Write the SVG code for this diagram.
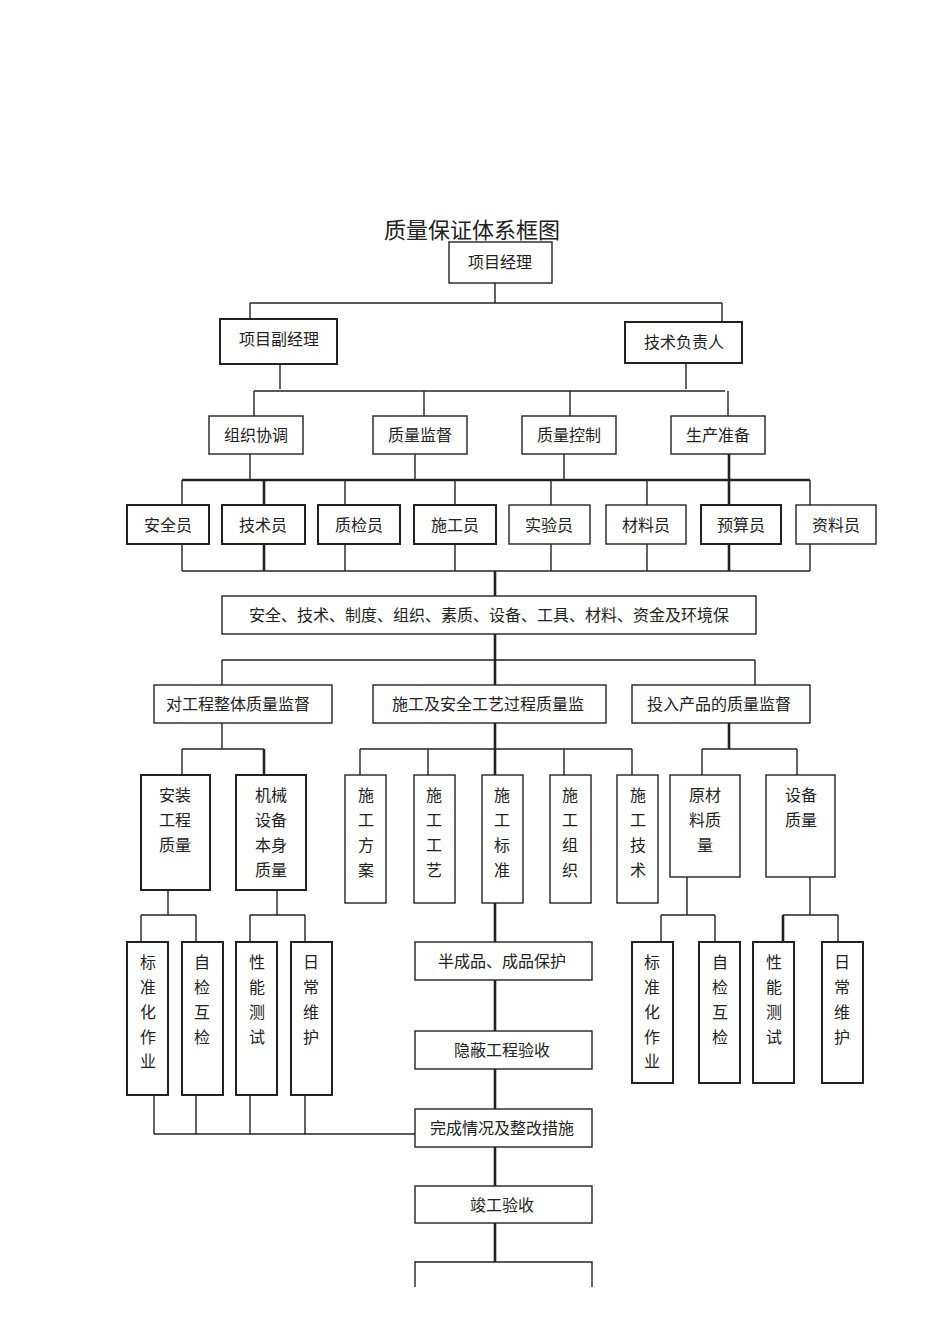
<svg xmlns="http://www.w3.org/2000/svg" width="950" height="1344" viewBox="0 0 950 1344">
<style>
rect{fill:#fff;stroke:#222;stroke-width:1.4}
text{font-family:"Liberation Serif","Noto Sans CJK SC",serif;font-size:16px;fill:#222;text-anchor:middle;dominant-baseline:central}
.c line{stroke:#222;stroke-width:1.4}
.c .t{stroke-width:2.6}
</style>
<rect x="0" y="0" width="950" height="1344" style="stroke:none"/>
<text x="472" y="230" style="font-size:22px">质量保证体系框图</text>
<g class="c">
<line x1="495" y1="283" x2="495" y2="303"/><line x1="250" y1="303" x2="722" y2="303"/>
<line x1="250" y1="303" x2="250" y2="319"/><line x1="722" y1="303" x2="722" y2="322"/>
<line x1="280" y1="364" x2="280" y2="389"/><line x1="686" y1="363" x2="686" y2="389"/>
<line x1="254" y1="391" x2="725" y2="391"/>
<line x1="254" y1="391" x2="254" y2="416"/><line x1="424" y1="391" x2="424" y2="416"/><line x1="570" y1="391" x2="570" y2="416"/><line x1="728" y1="391" x2="728" y2="416"/>
<line x1="250" y1="454" x2="250" y2="480"/><line x1="415" y1="454" x2="415" y2="480"/><line x1="564" y1="454" x2="564" y2="480"/><line class="t" x1="729" y1="454" x2="729" y2="480"/>
<line class="t" x1="182" y1="480" x2="810" y2="480"/>
<line x1="182" y1="480" x2="182" y2="505"/><line class="t" x1="264" y1="480" x2="264" y2="505"/><line x1="345" y1="480" x2="345" y2="505"/><line x1="455" y1="480" x2="455" y2="505"/><line x1="551" y1="480" x2="551" y2="505"/><line x1="647" y1="480" x2="647" y2="505"/><line class="t" x1="729" y1="480" x2="729" y2="505"/><line x1="810" y1="480" x2="810" y2="505"/>
<line x1="182" y1="544" x2="182" y2="571"/><line class="t" x1="264" y1="544" x2="264" y2="571"/><line x1="345" y1="544" x2="345" y2="571"/><line x1="455" y1="544" x2="455" y2="571"/><line x1="551" y1="544" x2="551" y2="571"/><line x1="647" y1="544" x2="647" y2="571"/><line class="t" x1="729" y1="544" x2="729" y2="571"/><line x1="810" y1="544" x2="810" y2="571"/>
<line x1="182" y1="571" x2="810" y2="571"/>
<line class="t" x1="495" y1="571" x2="495" y2="596"/>
<line class="t" x1="495" y1="634" x2="495" y2="685"/>
<line x1="222" y1="660" x2="755" y2="660"/>
<line x1="222" y1="660" x2="222" y2="685"/><line x1="755" y1="660" x2="755" y2="685"/>
<line x1="222" y1="723" x2="222" y2="749"/><line x1="182" y1="749" x2="264" y2="749"/><line x1="182" y1="749" x2="182" y2="775"/><line class="t" x1="264" y1="749" x2="264" y2="775"/>
<line class="t" x1="495" y1="723" x2="495" y2="775"/><line x1="360" y1="749" x2="632" y2="749"/>
<line x1="360" y1="749" x2="360" y2="775"/><line x1="428" y1="749" x2="428" y2="775"/><line x1="564" y1="749" x2="564" y2="775"/><line x1="632" y1="749" x2="632" y2="775"/>
<line class="t" x1="729" y1="723" x2="729" y2="749"/><line x1="702" y1="749" x2="797" y2="749"/><line x1="702" y1="749" x2="702" y2="775"/><line x1="797" y1="749" x2="797" y2="775"/>
<line x1="168" y1="890" x2="168" y2="915"/><line x1="141" y1="915" x2="196" y2="915"/><line x1="141" y1="915" x2="141" y2="942"/><line x1="196" y1="915" x2="196" y2="942"/>
<line x1="277" y1="890" x2="277" y2="915"/><line x1="250" y1="915" x2="305" y2="915"/><line x1="250" y1="915" x2="250" y2="942"/><line x1="305" y1="915" x2="305" y2="942"/>
<line x1="687" y1="877" x2="687" y2="915"/><line x1="661" y1="915" x2="715" y2="915"/><line x1="661" y1="915" x2="661" y2="942"/><line x1="715" y1="915" x2="715" y2="942"/>
<line x1="810" y1="877" x2="810" y2="915"/><line class="t" x1="783" y1="915" x2="783" y2="942"/><line x1="783" y1="915" x2="838" y2="915"/><line x1="838" y1="915" x2="838" y2="942"/>
<line class="t" x1="495" y1="903" x2="495" y2="942"/><line class="t" x1="495" y1="980" x2="495" y2="1031"/><line class="t" x1="495" y1="1069" x2="495" y2="1109"/><line class="t" x1="495" y1="1147" x2="495" y2="1186"/><line class="t" x1="495" y1="1223" x2="495" y2="1262"/>
<line x1="154" y1="1095" x2="154" y2="1134"/><line x1="196" y1="1095" x2="196" y2="1134"/><line x1="250" y1="1095" x2="250" y2="1134"/><line x1="305" y1="1095" x2="305" y2="1134"/><line x1="154" y1="1134" x2="415" y2="1134"/>
</g>
<g id="n1"><rect x="449" y="242" width="103" height="41"/><text x="500" y="262">项目经理</text></g>
<g id="n2"><rect x="220" y="319" width="117" height="45" style="stroke-width:2"/><text x="279" y="339">项目副经理</text></g>
<g id="n3"><rect x="625" y="322" width="117" height="41" style="stroke-width:2"/><text x="684" y="342">技术负责人</text></g>
<g id="n4"><rect x="209" y="416" width="94" height="38"/><text x="256" y="435">组织协调</text></g>
<g id="n5"><rect x="373" y="416" width="94" height="38"/><text x="420" y="435">质量监督</text></g>
<g id="n6"><rect x="522" y="416" width="94" height="38"/><text x="569" y="435">质量控制</text></g>
<g id="n7"><rect x="671" y="416" width="94" height="38"/><text x="718" y="435">生产准备</text></g>
<g id="n8"><rect x="127" y="505" width="82" height="39" style="stroke-width:2"/><text x="168" y="525">安全员</text></g>
<g id="n9"><rect x="222" y="505" width="83" height="39" style="stroke-width:2"/><text x="263" y="525">技术员</text></g>
<g id="n10"><rect x="318" y="505" width="82" height="39" style="stroke-width:2"/><text x="359" y="525">质检员</text></g>
<g id="n11"><rect x="414" y="505" width="82" height="39" style="stroke-width:2"/><text x="455" y="525">施工员</text></g>
<g id="n12"><rect x="509" y="505" width="81" height="39"/><text x="549" y="525">实验员</text></g>
<g id="n13"><rect x="606" y="505" width="80" height="39"/><text x="646" y="525">材料员</text></g>
<g id="n14"><rect x="701" y="505" width="80" height="39" style="stroke-width:2"/><text x="741" y="525">预算员</text></g>
<g id="n15"><rect x="796" y="505" width="80" height="39"/><text x="836" y="525">资料员</text></g>
<g id="n16"><rect x="222" y="596" width="534" height="38"/><text x="489" y="615">安全、技术、制度、组织、素质、设备、工具、材料、资金及环境保</text></g>
<g id="n17"><rect x="154" y="685" width="178" height="38"/><text x="238" y="704">对工程整体质量监督</text></g>
<g id="n18"><rect x="373" y="685" width="233" height="38"/><text x="488" y="704">施工及安全工艺过程质量监</text></g>
<g id="n19"><rect x="632" y="685" width="178" height="38"/><text x="719" y="704">投入产品的质量监督</text></g>
<g id="n20"><rect x="141" y="775" width="69" height="115" style="stroke-width:2"/><text x="175" y="795">安装</text><text x="175" y="820">工程</text><text x="175" y="845">质量</text></g>
<g id="n21"><rect x="236" y="775" width="70" height="115" style="stroke-width:2"/><text x="271" y="795">机械</text><text x="271" y="820">设备</text><text x="271" y="845">本身</text><text x="271" y="870">质量</text></g>
<g id="n22"><rect x="345" y="775" width="41" height="128"/><text x="366" y="795">施</text><text x="366" y="820">工</text><text x="366" y="845">方</text><text x="366" y="870">案</text></g>
<g id="n23"><rect x="414" y="775" width="41" height="128"/><text x="434" y="795">施</text><text x="434" y="820">工</text><text x="434" y="845">工</text><text x="434" y="870">艺</text></g>
<g id="n24"><rect x="482" y="775" width="41" height="128"/><text x="502" y="795">施</text><text x="502" y="820">工</text><text x="502" y="845">标</text><text x="502" y="870">准</text></g>
<g id="n25"><rect x="550" y="775" width="41" height="128"/><text x="570" y="795">施</text><text x="570" y="820">工</text><text x="570" y="845">组</text><text x="570" y="870">织</text></g>
<g id="n26"><rect x="617" y="775" width="41" height="128"/><text x="638" y="795">施</text><text x="638" y="820">工</text><text x="638" y="845">技</text><text x="638" y="870">术</text></g>
<g id="n27"><rect x="670" y="775" width="70" height="102"/><text x="705" y="795">原材</text><text x="705" y="820">料质</text><text x="705" y="845">量</text></g>
<g id="n28"><rect x="766" y="775" width="69" height="102"/><text x="801" y="795">设备</text><text x="801" y="820">质量</text></g>
<g id="n29"><rect x="127" y="942" width="41" height="153" style="stroke-width:2"/><text x="148" y="962">标</text><text x="148" y="987">准</text><text x="148" y="1012">化</text><text x="148" y="1037">作</text><text x="148" y="1061">业</text></g>
<g id="n30"><rect x="182" y="942" width="41" height="153" style="stroke-width:2"/><text x="202" y="962">自</text><text x="202" y="987">检</text><text x="202" y="1012">互</text><text x="202" y="1037">检</text></g>
<g id="n31"><rect x="236" y="942" width="41" height="153" style="stroke-width:2"/><text x="257" y="962">性</text><text x="257" y="987">能</text><text x="257" y="1012">测</text><text x="257" y="1037">试</text></g>
<g id="n32"><rect x="291" y="942" width="41" height="153" style="stroke-width:2"/><text x="311" y="962">日</text><text x="311" y="987">常</text><text x="311" y="1012">维</text><text x="311" y="1037">护</text></g>
<g id="n33"><rect x="415" y="942" width="177" height="38"/><text x="502" y="961">半成品、成品保护</text></g>
<g id="n34"><rect x="415" y="1031" width="177" height="38"/><text x="502" y="1050">隐蔽工程验收</text></g>
<g id="n35"><rect x="415" y="1109" width="177" height="38"/><text x="502" y="1128">完成情况及整改措施</text></g>
<g id="n36"><rect x="415" y="1186" width="177" height="37"/><text x="502" y="1205">竣工验收</text></g>
<g id="n37"><path d="M415 1287V1262H592V1287" fill="none" stroke="#222" stroke-width="1.4"/></g>
<g id="n38"><rect x="632" y="942" width="41" height="141" style="stroke-width:2"/><text x="652" y="962">标</text><text x="652" y="987">准</text><text x="652" y="1012">化</text><text x="652" y="1037">作</text><text x="652" y="1061">业</text></g>
<g id="n39"><rect x="699" y="942" width="41" height="141" style="stroke-width:2"/><text x="720" y="962">自</text><text x="720" y="987">检</text><text x="720" y="1012">互</text><text x="720" y="1037">检</text></g>
<g id="n40"><rect x="753" y="942" width="41" height="141" style="stroke-width:2"/><text x="774" y="962">性</text><text x="774" y="987">能</text><text x="774" y="1012">测</text><text x="774" y="1037">试</text></g>
<g id="n41"><rect x="822" y="942" width="41" height="141" style="stroke-width:2"/><text x="842" y="962">日</text><text x="842" y="987">常</text><text x="842" y="1012">维</text><text x="842" y="1037">护</text></g>
</svg>
